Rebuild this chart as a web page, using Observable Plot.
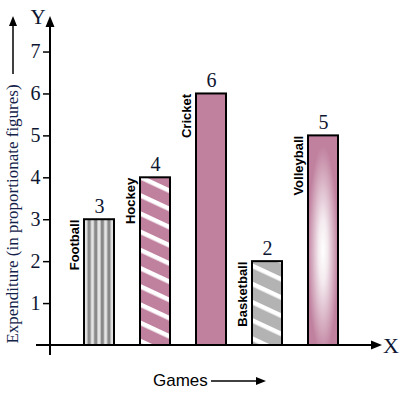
<!DOCTYPE html>
<html><head><meta charset="utf-8">
<script src="https://cdn.jsdelivr.net/npm/d3@7"></script>
<script src="https://cdn.jsdelivr.net/npm/@observablehq/plot@0.6"></script>
<style>
body{margin:0;background:#fff}
#chart{position:relative;width:403px;height:393px}
</style>
</head><body>
<svg width="0" height="0" style="position:absolute">
<defs>
  <pattern id="pFootball" patternUnits="userSpaceOnUse" width="6.6" height="10">
    <rect width="6.6" height="10" fill="#e4e4e4"/><rect x="1.6" width="3.4" height="10" fill="#8a8a8a"/>
  </pattern>
  <pattern id="pHockey" patternUnits="userSpaceOnUse" width="20" height="16.5" patternTransform="rotate(25)">
    <rect width="20" height="16.5" fill="#c0819f"/><rect y="0" width="20" height="4.5" fill="#ffffff"/>
  </pattern>
  <pattern id="pBasket" patternUnits="userSpaceOnUse" width="20" height="16.5" patternTransform="rotate(25)">
    <rect width="20" height="16.5" fill="#b3b3b3"/><rect y="0" width="20" height="4.5" fill="#ffffff"/>
  </pattern>
  <radialGradient id="gVolley" cx="0.5" cy="0.55" r="0.5">
    <stop offset="0" stop-color="#ffffff"/>
    <stop offset="0.3" stop-color="#f4ebef"/>
    <stop offset="1" stop-color="#c0819f"/>
  </radialGradient>
</defs>
</svg>
<div id="chart"></div>
<script>
const games = ["Football", "Hockey", "Cricket", "Basketball", "Volleyball"];
const expenditure = [3, 4, 6, 2, 5];
const yTicks = [1, 2, 3, 4, 5, 6, 7];

const fills = {
  Football: "url(#pFootball)",
  Hockey: "url(#pHockey)",
  Cricket: "#c0819f",
  Basketball: "url(#pBasket)",
  Volleyball: "url(#gVolley)"
};

const SERIF = "'Liberation Serif', 'Times New Roman', serif";
const SANS = "'Liberation Sans', Arial, sans-serif";

const data = games.map((g, i) => ({game: g, value: expenditure[i]}));

const chart = Plot.plot({
  width: 403, height: 393,
  marginLeft: 50, marginRight: 32, marginTop: 18, marginBottom: 48,
  style: {fontFamily: SERIF, fontSize: "18px", background: "#fff", color: "#000"},
  x: {domain: games, paddingInner: 0.471, paddingOuter: 0.564, axis: null},
  y: {domain: [0, 7.8], axis: null},
  color: {type: "identity"},
  marks: [
    Plot.barY(data, {x: "game", y: "value", fill: d => fills[d.game], stroke: "#000", strokeWidth: 2}),
    Plot.axisY({ticks: yTicks, tickSize: 7, tickPadding: 3, fontSize: 20, fill: "#0d1530",
      strokeWidth: 1.5, label: null, tickFormat: d => String(d)}),
    Plot.text(data, {x: "game", y: "value", text: d => String(d.value), dy: -13, fontSize: 20, fill: "#0d1530"}),
    Plot.text(data, {x: "game", y: "value", text: "game", rotate: -90, textAnchor: "end", dx: -25,
      fontWeight: "bold", fontSize: 13})
  ]
});

const svg = d3.select(chart);
svg.selectAll("text").style("font-family", SERIF).style("font-variant", "normal");
svg.selectAll("text").filter(function() { return games.includes(this.textContent); }).style("font-family", SANS);

const y = chart.scale("y");
const y0 = y.apply(0);
const ax = 50;
const g = svg.append("g").attr("stroke", "#000").attr("fill", "#000");
// Y axis with arrow
g.append("line").attr("x1", ax).attr("x2", ax).attr("y1", y0 + 10).attr("y2", 25).attr("stroke-width", 2);
g.append("polygon").attr("points", `${ax},16 ${ax-4.5},27 ${ax+4.5},27`).attr("stroke", "none");
// X axis with arrow
g.append("line").attr("x1", 36).attr("x2", 373).attr("y1", y0).attr("y2", y0).attr("stroke-width", 2);
g.append("polygon").attr("points", `382,${y0} 371,${y0-4.5} 371,${y0+4.5}`).attr("stroke", "none");
// Axis letters
svg.append("text").attr("x", 38).attr("y", 24).attr("text-anchor", "middle").style("font-family", SERIF)
  .attr("font-size", 21).attr("fill", "#0d1530").text("Y");
svg.append("text").attr("x", 391).attr("y", 353).attr("text-anchor", "middle").style("font-family", SERIF)
  .attr("font-size", 22).attr("fill", "#0d1530").text("X");
// Y title
svg.append("text").attr("transform", "translate(18,214) rotate(-90)").attr("text-anchor", "middle")
  .style("font-family", SERIF).attr("font-size", 17).attr("fill", "#14224a").text("Expenditure (in proportionate figures)");
g.append("line").attr("x1", 13).attr("x2", 13).attr("y1", 74).attr("y2", 24).attr("stroke-width", 1.5);
g.append("polygon").attr("points", `13,16 9,26 17,26`).attr("stroke", "none");
// X title
svg.append("text").attr("x", 153).attr("y", 386).attr("text-anchor", "start").style("font-family", SANS)
  .attr("font-size", 17).attr("fill", "#000").text("Games");
g.append("line").attr("x1", 211).attr("x2", 258).attr("y1", 381).attr("y2", 381).attr("stroke-width", 1.5);
g.append("polygon").attr("points", `266,381 256,377 256,385`).attr("stroke", "none");

document.getElementById("chart").appendChild(chart);
</script>
</body></html>
